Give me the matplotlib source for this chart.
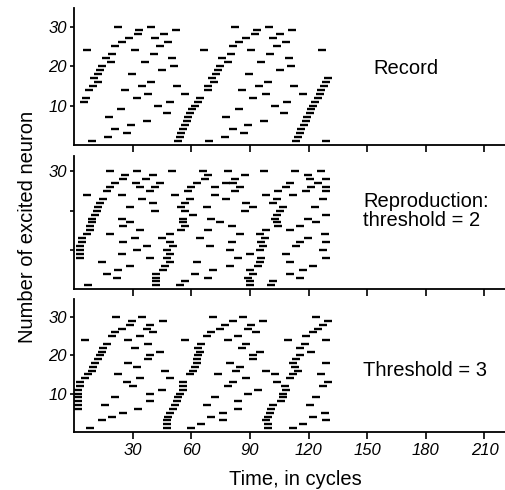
import matplotlib
matplotlib.use('Agg')
import matplotlib.pyplot as plt

plt.rcParams['font.family'] = ['Liberation Sans', 'DejaVu Sans']

# firing times (cycles) of each neuron, row i = neuron i+1
record_times = [
    [9.0, 53.3, 69.1, 113.8, 129.0],
    [17.2, 54.2, 77.2, 114.6],
    [27.3, 55.0, 86.9, 115.5],
    [20.9, 55.9, 81.4, 116.3],
    [29.1, 56.7, 89.1, 117.5],
    [37.1, 57.6, 97.2, 118.6],
    [18.0, 58.4, 78.0, 119.4],
    [47.4, 59.6, 107.5, 120.6],
    [23.9, 60.6, 84.3, 121.4],
    [43.1, 61.8, 102.7, 122.3],
    [5.1, 49.1, 63.5, 109.0, 123.2],
    [6.1, 32.0, 64.7, 91.6, 124.8],
    [38.0, 56.7, 98.1, 117.2, 125.7],
    [7.8, 26.1, 68.6, 86.2, 126.6],
    [9.5, 34.6, 52.5, 68.6, 94.5, 112.6, 127.7],
    [12.4, 39.2, 71.7, 99.3, 128.8],
    [10.2, 70.7, 130.0],
    [12.4, 29.5, 72.9, 89.6],
    [13.3, 44.8, 73.7, 105.3],
    [14.5, 51.3, 74.6, 111.2],
    [18.8, 36.3, 78.9, 95.9],
    [16.2, 49.9, 75.5, 110.0],
    [19.3, 41.0, 80.1, 100.5],
    [6.8, 31.2, 66.4, 90.8, 127.1],
    [20.9, 43.9, 81.4, 103.9],
    [24.4, 47.9, 84.5, 108.3],
    [28.3, 41.7, 88.2, 101.8],
    [32.9, 46.2, 92.5, 105.3],
    [33.4, 52.1, 93.7, 111.7],
    [22.6, 39.3, 82.3, 99.6],
]

thr2_times = [
    [7.3, 42.2, 54.2, 89.9, 101.0],
    [42.2, 56.7, 89.9, 101.9],
    [21.8, 42.2, 68.6, 89.1, 115.5],
    [16.7, 42.2, 61.8, 91.6, 110.4],
    [22.7, 45.6, 71.2, 89.9, 117.2],
    [28.6, 46.5, 79.7, 94.2, 122.3],
    [14.1, 49.1, 62.7, 95.0, 110.4],
    [3.1, 38.8, 47.4, 84.0, 95.9, 129.1],
    [3.1, 24.4, 49.1, 89.9, 108.7],
    [3.1, 32.0, 47.4, 79.7, 95.0, 127.4],
    [3.1, 37.1, 50.8, 69.5, 96.7, 113.8],
    [3.9, 25.2, 49.1, 80.6, 95.9, 115.5, 129.1],
    [3.9, 31.2, 44.8, 64.4, 97.6, 119.7],
    [6.5, 18.4, 49.1, 84.8, 95.0, 128.3],
    [8.2, 33.7, 55.0, 68.6, 98.4, 110.4],
    [8.2, 25.2, 56.7, 80.6, 104.4, 115.5],
    [9.0, 28.6, 55.9, 74.6, 103.6, 124.0],
    [9.0, 24.4, 55.9, 70.3, 102.7, 119.7],
    [10.7, 61.0, 103.6, 129.1],
    [11.6, 41.4, 56.7, 87.4, 105.3],
    [12.4, 28.6, 55.0, 67.8, 91.6, 107.0, 123.1],
    [13.3, 40.5, 56.7, 88.2, 101.9],
    [15.0, 34.6, 59.3, 78.0, 103.6, 127.4],
    [6.5, 24.4, 51.6, 72.0, 98.4, 112.1],
    [16.7, 38.8, 58.4, 82.3, 104.4, 118.9, 129.1],
    [18.4, 33.7, 41.4, 60.1, 72.0, 84.8, 108.7, 121.4, 129.1],
    [21.0, 31.7, 43.9, 62.7, 78.0, 81.4, 110.4, 124.8],
    [25.2, 36.8, 66.9, 82.3, 120.6, 129.1],
    [26.1, 40.5, 68.6, 87.4, 119.7],
    [18.4, 32.0, 49.9, 66.1, 78.9, 97.1, 112.9, 126.5],
]

thr3_times = [
    [8.2, 47.4, 60.1, 99.3, 112.1],
    [47.4, 65.2, 99.3, 117.2],
    [14.1, 47.4, 76.3, 98.4, 129.1],
    [19.3, 48.2, 70.3, 99.3, 122.3],
    [25.2, 49.1, 76.3, 100.2, 128.3],
    [2.2, 32.9, 50.8, 84.0, 101.0],
    [2.2, 15.8, 51.6, 67.8, 101.9, 120.6],
    [2.2, 38.8, 52.5, 84.0, 106.1],
    [2.2, 21.0, 53.3, 72.0, 107.0, 124.0],
    [2.2, 38.8, 54.2, 89.1, 107.0],
    [2.2, 44.8, 55.9, 94.2, 108.7],
    [3.1, 30.3, 55.9, 78.9, 107.8, 127.4],
    [3.1, 26.9, 55.9, 81.4, 103.6, 130.0],
    [5.6, 33.7, 49.1, 88.2, 110.4],
    [7.3, 22.7, 59.3, 73.7, 102.7, 112.1, 126.5],
    [9.0, 46.5, 61.0, 83.1, 98.4, 114.6],
    [9.9, 32.0, 61.8, 84.8, 112.9],
    [10.7, 27.8, 62.7, 79.7, 112.1, 129.1],
    [12.4, 38.0, 62.7, 91.6, 113.8],
    [13.3, 38.8, 63.5, 91.6, 115.5],
    [14.1, 43.9, 64.4, 95.0, 121.4],
    [15.0, 31.2, 63.5, 85.7, 115.5],
    [16.7, 38.0, 65.2, 88.2, 118.0],
    [5.6, 27.8, 56.7, 78.9, 109.5, 129.1],
    [19.3, 33.7, 67.8, 84.0, 118.9],
    [21.0, 40.5, 70.3, 93.3, 122.3],
    [24.4, 37.1, 74.6, 89.1, 124.8],
    [28.6, 38.8, 77.2, 90.8, 127.4],
    [29.5, 45.6, 81.4, 96.7, 130.0],
    [21.5, 34.6, 71.2, 86.5, 124.0],
]

panel_labels = ['Record', 'Reproduction:\nthreshold = 2', 'Threshold = 3']
x_ticks = [30, 60, 90, 120, 150, 180, 210]
y_ticks = [10, 20, 30]

fig = plt.figure(figsize=(5.06, 4.90), dpi=100)

# [left, bottom, width, height] in figure fractions, plus y-limit
panels = [
    ([0.1462, 0.7041, 0.8538, 0.2796], 34.7, record_times),
    ([0.1462, 0.4096, 0.8538, 0.2720], 33.9, thr2_times),
    ([0.1462, 0.1184, 0.8538, 0.2714], 34.7, thr3_times),
]

for i, (rect, ytop, times) in enumerate(panels):
    ax = fig.add_axes(rect)
    for k, row in enumerate(times):
        ax.plot(row, [k + 1] * len(row), ls='none', marker='_',
                ms=6.3, mew=1.7, color='black')
    ax.set_xlim(0, 221)
    ax.set_ylim(0, ytop)
    for s in ['top', 'right']:
        ax.spines[s].set_visible(False)
    for s in ['left', 'bottom']:
        ax.spines[s].set_linewidth(1.3)
    ax.set_xticks(x_ticks)
    ax.set_yticks(y_ticks)
    ax.tick_params(axis='x', direction='out', length=5, width=1.2, pad=3)
    ax.tick_params(axis='y', direction='out', length=3, width=1.2, pad=2)
    if i < 2:
        ax.set_xticklabels([])
    else:
        ax.set_xticklabels([str(v) for v in x_ticks], fontstyle='italic', fontsize=12)
    if i == 1:
        ax.set_yticklabels(['', '', '30'], fontstyle='italic', fontsize=12)
    else:
        ax.set_yticklabels([str(v) for v in y_ticks], fontstyle='italic', fontsize=12)
    ax.patch.set_visible(False)

fig.text(373 / 506, 1 - 68 / 490, panel_labels[0], fontsize=14.5, va='center', ha='left')
fig.text(363 / 506, 1 - 211 / 490, panel_labels[1], fontsize=14.5, va='center', ha='left',
         linespacing=1.0)
fig.text(363 / 506, 1 - 370 / 490, panel_labels[2], fontsize=14.5, va='center', ha='left')

fig.text(295 / 506, 1 - 479 / 490, 'Time, in cycles', fontsize=14.5, ha='center', va='center')
fig.text(28 / 506, 1 - 227 / 490, 'Number of excited neuron', fontsize=14.5,
         rotation=90, ha='center', va='center')

fig.savefig('out.png', dpi=100)
